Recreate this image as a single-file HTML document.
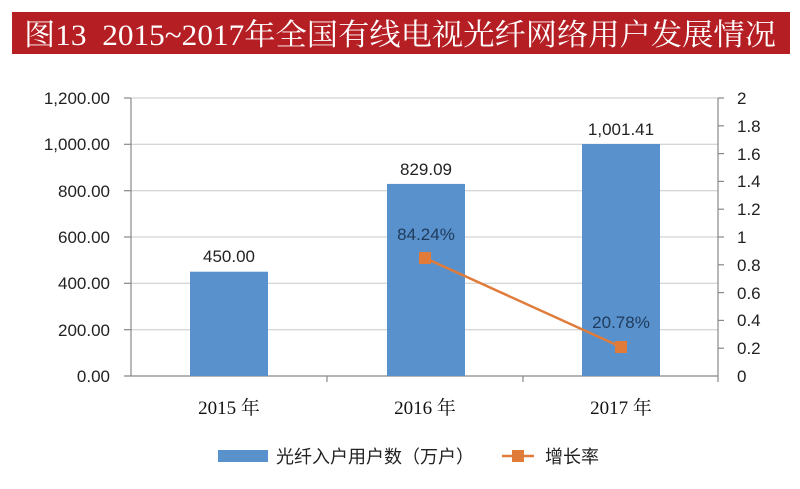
<!DOCTYPE html>
<html><head><meta charset="utf-8"><style>
body{margin:0;width:800px;height:484px;background:#fff;overflow:hidden}
</style></head><body>
<svg width="800" height="484" xmlns="http://www.w3.org/2000/svg" font-family="'Liberation Sans','Noto Sans CJK SC',sans-serif">
<rect x="12" y="12" width="778" height="42" fill="#b51f24"/>
<text x="24" y="45" fill="#fff" font-size="30" font-family="'Liberation Serif','Noto Serif CJK SC',serif" textLength="752" lengthAdjust="spacingAndGlyphs" xml:space="preserve">图13  2015~2017年全国有线电视光纤网络用户发展情况</text>
<g stroke="#c8c8c8" stroke-width="1">
<line x1="131" y1="98" x2="718" y2="98"/><line x1="131" y1="144.3" x2="718" y2="144.3"/><line x1="131" y1="190.7" x2="718" y2="190.7"/><line x1="131" y1="237" x2="718" y2="237"/><line x1="131" y1="283.3" x2="718" y2="283.3"/><line x1="131" y1="329.7" x2="718" y2="329.7"/>
</g>
<g stroke="#888" stroke-width="1.2">
<line x1="131" y1="98" x2="131" y2="376"/><line x1="718" y1="98" x2="718" y2="382"/><line x1="124" y1="376" x2="718" y2="376"/>
<line x1="327" y1="376" x2="327" y2="382"/><line x1="523" y1="376" x2="523" y2="382"/>
<line x1="124" y1="98" x2="131" y2="98"/><line x1="124" y1="144.3" x2="131" y2="144.3"/><line x1="124" y1="190.7" x2="131" y2="190.7"/><line x1="124" y1="237" x2="131" y2="237"/><line x1="124" y1="283.3" x2="131" y2="283.3"/><line x1="124" y1="329.7" x2="131" y2="329.7"/>
</g>
<g stroke="#888" stroke-width="1.2">
<line x1="718" y1="98" x2="724" y2="98"/><line x1="718" y1="125.8" x2="724" y2="125.8"/><line x1="718" y1="153.6" x2="724" y2="153.6"/><line x1="718" y1="181.4" x2="724" y2="181.4"/><line x1="718" y1="209.2" x2="724" y2="209.2"/><line x1="718" y1="237" x2="724" y2="237"/><line x1="718" y1="264.8" x2="724" y2="264.8"/><line x1="718" y1="292.6" x2="724" y2="292.6"/><line x1="718" y1="320.4" x2="724" y2="320.4"/><line x1="718" y1="348.2" x2="724" y2="348.2"/>
</g>
<g fill="#5891cb">
<rect x="190" y="271.7" width="78" height="104.3"/>
<rect x="387" y="183.9" width="78" height="192.1"/>
<rect x="582" y="144" width="78" height="232"/>
</g>
<g font-size="17" fill="#222" text-anchor="end">
<text x="110" y="104">1,200.00</text><text x="110" y="150">1,000.00</text><text x="110" y="197">800.00</text><text x="110" y="243">600.00</text><text x="110" y="289">400.00</text><text x="110" y="336">200.00</text><text x="110" y="382">0.00</text>
</g>
<g font-size="17" fill="#222">
<text x="737" y="104">2</text><text x="737" y="132">1.8</text><text x="737" y="160">1.6</text><text x="737" y="187">1.4</text><text x="737" y="215">1.2</text><text x="737" y="243">1</text><text x="737" y="271">0.8</text><text x="737" y="299">0.6</text><text x="737" y="326">0.4</text><text x="737" y="354">0.2</text><text x="737" y="382">0</text>
</g>
<g font-size="17" fill="#222" text-anchor="middle">
<text x="229" y="262">450.00</text><text x="426" y="175">829.09</text><text x="621" y="135">1,001.41</text>
</g>
<g font-size="17" fill="#1f3a5c" text-anchor="middle">
<text x="426" y="240">84.24%</text><text x="621" y="328">20.78%</text>
</g>
<polyline points="425,258 621,347" stroke="#e07b3a" stroke-width="2.5" fill="none"/>
<rect x="419" y="252" width="12" height="12" fill="#e07b3a"/><rect x="615" y="341" width="12" height="12" fill="#e07b3a"/>
<g font-size="19" fill="#111" text-anchor="middle" font-family="'Liberation Serif','Noto Serif CJK SC',serif">
<text x="229" y="414">2015 年</text><text x="425" y="414">2016 年</text><text x="621" y="414">2017 年</text>
</g>
<rect x="218" y="450" width="50" height="12" fill="#5891cb"/>
<text x="276" y="463" font-size="18" fill="#222">光纤入户用户数（万户）</text>
<line x1="502" y1="456" x2="534" y2="456" stroke="#e07b3a" stroke-width="2.5"/>
<rect x="512" y="450" width="12" height="12" fill="#e07b3a"/>
<text x="545" y="463" font-size="18" fill="#222">增长率</text>
</svg>
</body></html>
